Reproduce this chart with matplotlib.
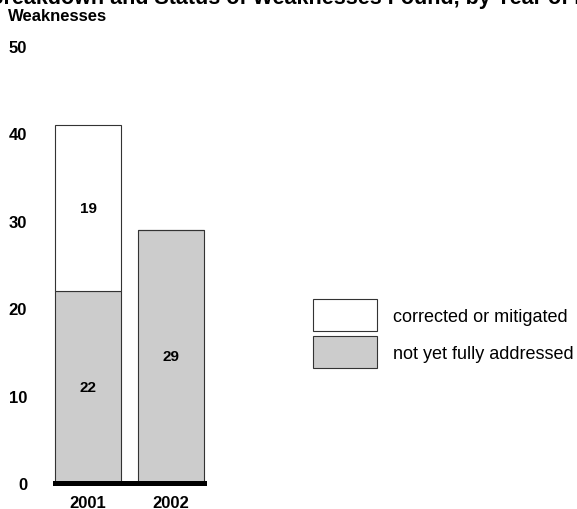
import matplotlib
matplotlib.use("Agg")
import matplotlib.pyplot as plt
from matplotlib.patches import Patch

#####################################
# Chart data
#####################################

years = ["2001", "2002"]
corrected = [19, 0]
not_addressed = [22, 29]
series_labels = ["corrected or mitigated", "not yet fully addressed"]
y_ticks = [0, 10, 20, 30, 40, 50]

title = "Breakdown and Status of Weaknesses Found, by Year of Review"

#####################################
# Figure setup
#####################################

plt.rcParams["font.family"] = ["Liberation Sans", "DejaVu Sans"]

W, H = 577, 510
fig = plt.figure(figsize=(W / 100, H / 100), dpi=100)

# axes placed in pixel terms: x 55..204, y(0)=484, y(50)=47
ax = fig.add_axes([55 / W, (H - 484) / H, 149 / W, (484 - 47) / H])

gray = "#cccccc"
edge = "#333333"
x = list(range(len(years)))

ax.bar(x, not_addressed, width=0.8, color=gray, edgecolor=edge,
       linewidth=0.8, clip_on=False)
ax.bar(x, corrected, width=0.8, bottom=not_addressed, color="white",
       edgecolor=edge, linewidth=0.8, clip_on=False)

# value labels inside the segments
for i in x:
    if not_addressed[i] > 0:
        ax.text(i, not_addressed[i] / 2, str(not_addressed[i]), ha="center",
                va="center", fontsize=11, fontweight="bold")
    if corrected[i] > 0:
        ax.text(i, not_addressed[i] + corrected[i] / 2, str(corrected[i]),
                ha="center", va="center", fontsize=11, fontweight="bold")

ax.axhline(0, color="black", linewidth=3.6, clip_on=False, zorder=5)

ax.set_xlim(-0.4, 1.4)
ax.set_ylim(0, 50)
ax.set_xticks(x)
ax.set_xticklabels(years, fontsize=12, fontweight="bold")
ax.set_yticks(y_ticks)
ax.set_yticklabels([str(t) for t in y_ticks], fontsize=12, fontweight="bold")
ax.tick_params(axis="both", length=0)
ax.tick_params(axis="y", pad=20)
ax.tick_params(axis="x", pad=9)
for s in ax.spines.values():
    s.set_visible(False)

# legend
handles = [Patch(facecolor="white", edgecolor=edge, linewidth=0.8),
           Patch(facecolor=gray, edgecolor=edge, linewidth=0.8)]
fig.legend(handles, series_labels, loc="upper left",
           bbox_to_anchor=(313 / W, (H - 300) / H), frameon=False,
           fontsize=13, handlelength=3.55, handleheight=2.345,
           handletextpad=0.89, labelspacing=0.28, borderpad=0,
           borderaxespad=0)

# titles (the main title runs off the top edge, as in the source)
fig.text(-12 / W, (H - 4) / H, title, fontsize=15.5, fontweight="bold",
         ha="left", va="baseline")
fig.text(8 / W, (H - 21) / H, "Weaknesses", fontsize=12, fontweight="bold",
         ha="left", va="baseline")

fig.savefig("out.png", dpi=100)
